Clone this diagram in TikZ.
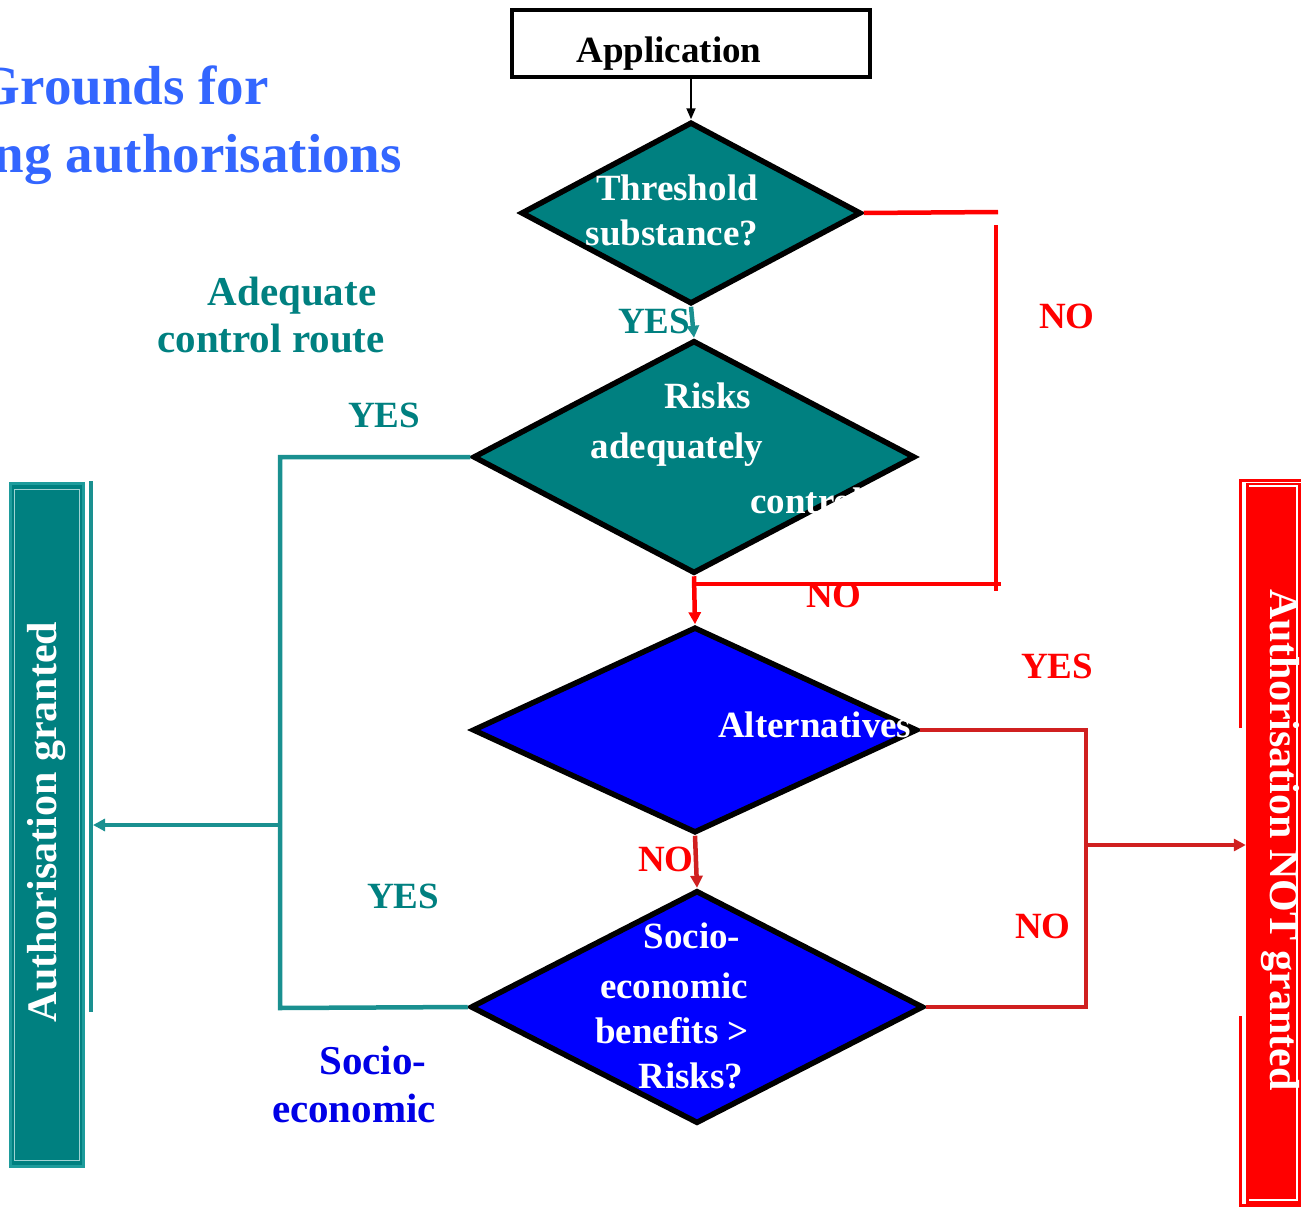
\documentclass[tikz,border=0pt]{standalone}
\usepackage{fontspec}
\setmainfont{Liberation Serif}
\usetikzlibrary{shapes.geometric,arrows.meta}
\definecolor{myteal}{HTML}{008080}
\definecolor{tealcon}{HTML}{1A9090}
\definecolor{tealedge}{HTML}{1E9C9C}
\definecolor{tealinner}{HTML}{9FD3D3}
\definecolor{myred}{HTML}{FF0000}
\definecolor{conred}{HTML}{D02020}
\definecolor{myblue}{HTML}{0000FF}
\definecolor{titleblue}{HTML}{3366FF}
\definecolor{labelblue}{HTML}{0000E6}
\begin{document}
\begin{tikzpicture}[x=1pt,y=-1pt,
  dia/.style={shape=diamond, draw=black, line width=5.5pt, inner sep=0pt},
  txt/.style={font=\bfseries\fontsize{37}{40}\selectfont, inner sep=0pt, anchor=base},
  wtxt/.style={txt, text=white},
  bigtxt/.style={font=\bfseries\fontsize{41}{44}\selectfont, inner sep=0pt, anchor=base},
  tealline/.style={draw=tealcon, line width=4.5pt},
  redline/.style={draw=myred, line width=4.5pt},
  conline/.style={draw=conred, line width=4.5pt},
  tip/.style={-{Triangle[length=12pt,width=12pt]}}
]
\useasboundingbox (0,0) rectangle (1301,1207);

% title
\node[font=\bfseries\fontsize{55}{60}\selectfont, text=titleblue, inner sep=0pt, anchor=base east] (t1) at (269,104) {Grounds for};
\node[font=\bfseries\fontsize{55}{60}\selectfont, text=titleblue, inner sep=0pt, anchor=base east] (t2) at (402,172) {ng authorisations};

% route labels
\node[bigtxt, text=myteal] (l1) at (292,305) {Adequate};
\node[bigtxt, text=myteal] (l2) at (271,352) {control route};
\node[bigtxt, text=labelblue] (l3) at (373,1074) {Socio-};
\node[bigtxt, text=labelblue] (l4) at (354,1122) {economic};

% coordinates
\coordinate (r1) at (998,212);
\coordinate (r2) at (996,225);
\coordinate (r3) at (996,591);
\coordinate (r4) at (1001,584);
\coordinate (r5) at (693,584);
\coordinate (tl) at (280,457);
\coordinate (tj) at (280,825);
\coordinate (bl) at (280,1008);
\coordinate (gtop) at (91,481);
\coordinate (gbot) at (91,1012);
\coordinate (rx) at (1086,845);

% bars
\node[rectangle, fill=myteal, draw=tealedge, line width=3pt, minimum width=73pt, minimum height=683pt, inner sep=0pt] (gr) at (46.5,824.5) {};
\draw[tealinner, line width=1pt] (14,489) rectangle (79,1160);
\draw[tealline] (gtop) -- (gbot);
\node[font=\bfseries\fontsize{42}{46}\selectfont, text=white, inner sep=0pt, rotate=90] (grt) at (47,822) {Authorisation granted};

\node[rectangle, fill=myred, minimum width=56pt, minimum height=721pt, inner sep=0pt] (ng) at (1274,843) {};
\draw[white, line width=1.2pt] (1249,486) -- (1297,486) -- (1297,1200) -- (1249,1200);
\draw[myred, line width=3pt] (1240,728) -- (1240,480) -- (1301,480);
\draw[myred, line width=3pt] (1240,1016) -- (1240,1205) -- (1301,1205);
\node[font=\bfseries\fontsize{42}{46}\selectfont, text=white, inner sep=0pt, rotate=-90] (ngt) at (1280,840) {Authorisation NOT granted};

% diamonds and box
\node[draw=black, line width=4.5pt, minimum width=358pt, minimum height=67pt, inner sep=0pt] (app) at (691,43.5) {};
\node[txt] (appt) at (669,63) {Application};

\node[dia, fill=myteal, minimum width=340pt, minimum height=182pt] (d1) at (691,213) {};
\node[dia, fill=myteal, minimum width=442pt, minimum height=233pt] (d2) at (694,457) {};
\node[dia, fill=myblue, minimum width=445pt, minimum height=206pt] (d3) at (695,730) {};
\node[dia, fill=myblue, minimum width=453pt, minimum height=233pt] (d4) at (697,1007) {};

% connectors
\draw[black, line width=1.8pt, -{Triangle[length=11pt,width=9pt]}] (app.south) -- (d1.north);
\draw[tealline, tip] (d1.south) -- (d2.north);
\draw[redline] (d1.east) -- (r1);
\draw[redline] (r2) -- (r3);
\draw[redline] (r4) -- (r5);
\draw[redline, tip] (d2.south) -- (d3.north);
\draw[tealline] (d2.west) -- (tl) -- (bl) -- (d4.west);
\draw[tealline, tip] (tj) -- ([xshift=2pt]tj -| gtop);
\draw[conline, tip] (d3.south) -- (d4.north);
\draw[conline] (d3.east) -| (rx) |- (d4.east);
\draw[conline, tip] (rx) -- (rx -| ng.west);

% diamond texts
\node[wtxt] (a1) at (677,200) {Threshold};
\node[wtxt] (a2) at (672,245) {substance?};
\node[wtxt] (b1) at (708,408) {Risks};
\node[wtxt] (b2) at (677,458) {adequately};
\node[wtxt, anchor=base west] (b3) at (750,513) {controlled?};
\node[wtxt, anchor=base west] (c1) at (718,737) {Alternatives};
\node[wtxt] (e1) at (692,948) {Socio-};
\node[wtxt] (e2) at (674,998) {economic};
\node[wtxt] (e3) at (672,1043) {benefits >};
\node[wtxt] (e4) at (691,1088) {Risks?};

% YES / NO labels
\node[txt, text=myteal] (y1) at (654,333) {YES};
\node[txt, text=myteal] (y2) at (384,427) {YES};
\node[txt, text=myteal] (y3) at (403,908) {YES};
\node[txt, text=myred] (n1) at (1067,328) {NO};
\node[txt, text=myred] (n2) at (834,607) {NO};
\node[txt, text=myred] (y4) at (1057,678) {YES};
\node[txt, text=myred] (n3) at (666,871) {NO};
\node[txt, text=myred] (n4) at (1043,938) {NO};
\end{tikzpicture}
\end{document}
